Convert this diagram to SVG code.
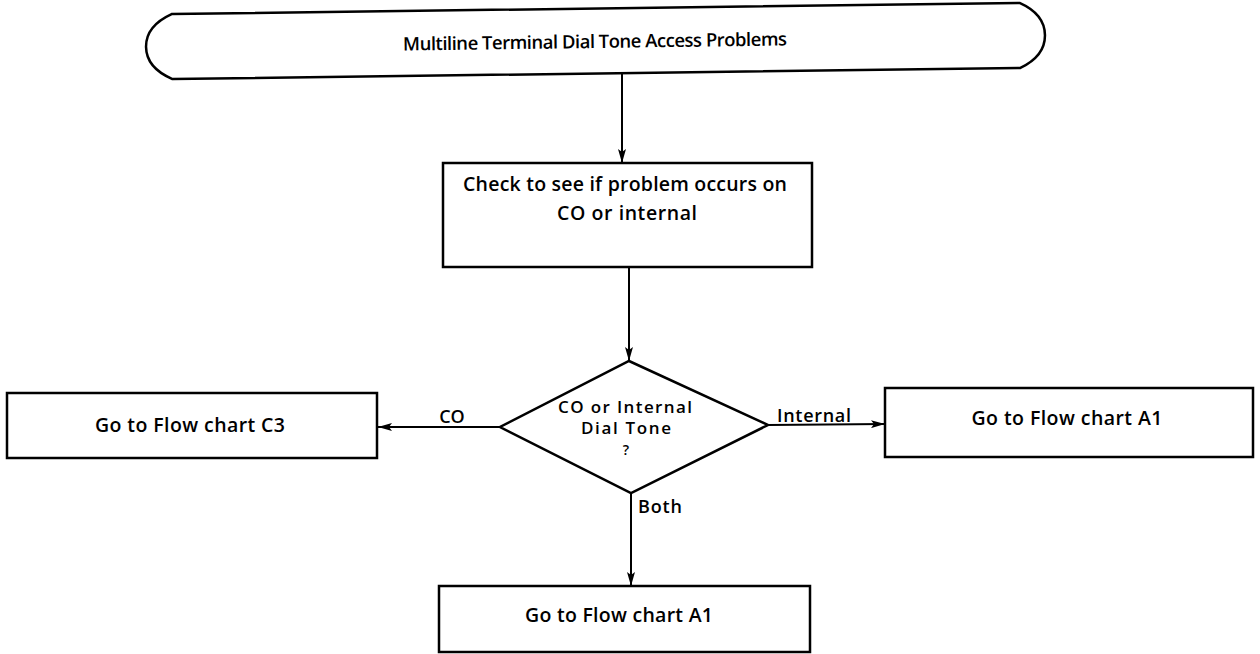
<svg xmlns="http://www.w3.org/2000/svg" width="1260" height="654" viewBox="0 0 1260 654">
<style>
.shape{fill:#fff;stroke:#000;stroke-width:2.5}
.conn{fill:none;stroke:#000;stroke-width:2}
text{font-family:"Open Sans","Liberation Sans",sans-serif;font-weight:600;fill:#000;text-anchor:middle}
.t{font-size:19.5px}
.d{font-size:17px}
.title{font-size:18.5px}
.lbl{font-size:18px}
</style>
<defs>
<marker id="ah" viewBox="0 0 14 8" refX="14" refY="4" markerWidth="14" markerHeight="8" markerUnits="userSpaceOnUse" orient="auto">
<path d="M0,0 L14,4 L0,8 L3,4 Z" fill="#000"/>
</marker>
</defs>
<g id="title" transform="rotate(-0.75 595 41)">
<path class="shape" d="M172,8.5 L1020,8.5 Q1045,20 1045,41 Q1045,62 1020,73.5 L172,73.5 Q146,62 146,41 Q146,20 172,8.5 Z"/>
<text class="title" x="595" y="48" textLength="384">Multiline Terminal Dial Tone Access Problems</text>
</g>
<g id="check">
<rect class="shape" x="443" y="163" width="369" height="104"/>
<text class="t" x="625" y="191" textLength="324">Check to see if problem occurs on</text>
<text class="t" x="627" y="220" textLength="140">CO or internal</text>
</g>
<g id="decision">
<polygon class="shape" points="629,361 768,425 631,493 500,427"/>
<text class="d" x="625" y="413" textLength="134">CO or Internal</text>
<text class="d" x="626" y="434" textLength="90">Dial Tone</text>
<text class="d" x="626" y="455" style="font-size:14px">?</text>
</g>
<g id="c3">
<rect class="shape" x="7" y="393" width="370" height="65"/>
<text class="t" x="190" y="432" textLength="190">Go to Flow chart C3</text>
</g>
<g id="a1right">
<rect class="shape" x="885" y="388" width="368" height="69"/>
<text class="t" x="1067" y="425" textLength="191">Go to Flow chart A1</text>
</g>
<g id="a1bottom">
<rect class="shape" x="439" y="586" width="371" height="66"/>
<text class="t" x="619" y="622" textLength="188">Go to Flow chart A1</text>
</g>
<g id="connectors">
<line class="conn" x1="622" y1="73" x2="622" y2="163" marker-end="url(#ah)"/>
<line class="conn" x1="629" y1="267" x2="629" y2="361" marker-end="url(#ah)"/>
<line class="conn" x1="500" y1="427" x2="378" y2="427" marker-end="url(#ah)"/>
<line class="conn" x1="768" y1="425" x2="885" y2="424" marker-end="url(#ah)"/>
<line class="conn" x1="631" y1="493" x2="631" y2="586" marker-end="url(#ah)"/>
<text class="lbl" x="452" y="423">CO</text>
<text class="lbl" x="814" y="422" textLength="74">Internal</text>
<text class="lbl" x="660" y="513" textLength="44">Both</text>
</g>
</svg>
